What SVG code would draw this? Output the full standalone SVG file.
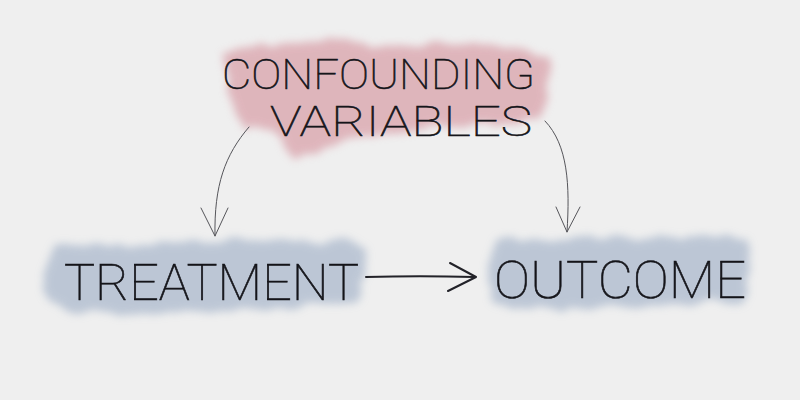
<svg xmlns="http://www.w3.org/2000/svg" width="800" height="400" viewBox="0 0 800 400">
<defs>
<filter id="wash" x="-10%" y="-25%" width="120%" height="150%">
<feTurbulence type="fractalNoise" baseFrequency="0.035" numOctaves="3" seed="4" result="n"/>
<feDisplacementMap in="SourceGraphic" in2="n" scale="16" xChannelSelector="R" yChannelSelector="G" result="d"/>
<feGaussianBlur in="d" stdDeviation="4"/>
</filter>
<style>
.lbl{font-family:"Roboto","DejaVu Sans",sans-serif;font-weight:100;fill:#15151a;stroke:#15151a;stroke-width:0.6;}
.ln{fill:none;stroke:#55555a;stroke-width:1;stroke-linecap:round;stroke-linejoin:round;}
.bold{fill:none;stroke:#222228;stroke-width:2;stroke-linecap:round;stroke-linejoin:round;}
</style>
</defs>
<rect width="800" height="400" fill="#efefef"/>
<g id="confounding">
<path filter="url(#wash)" fill="#d48f9a" opacity="0.6" d="M222,52 C260,42 330,40 400,44 C460,44 510,46 548,58 C552,80 548,100 540,118 C500,126 440,130 380,134 C340,140 310,150 290,158 C285,140 265,130 245,124 C235,110 225,90 222,52 Z"/>
<text class="lbl" x="222" y="89" font-size="42" textLength="313" lengthAdjust="spacingAndGlyphs">CONFOUNDING</text>
<text class="lbl" x="270" y="136" font-size="42" textLength="262" lengthAdjust="spacingAndGlyphs">VARIABLES</text>
</g>
<g id="treatment">
<path filter="url(#wash)" fill="#a7b6cb" opacity="0.7" d="M52,248 C110,242 200,242 300,240 C330,240 355,242 366,248 C366,270 364,290 360,302 C300,308 200,312 120,314 C80,314 58,310 48,300 C46,280 48,262 52,248 Z"/>
<text class="lbl" x="64" y="300" font-size="50" textLength="295" lengthAdjust="spacingAndGlyphs">TREATMENT</text>
</g>
<g id="outcome">
<path filter="url(#wash)" fill="#a7b6cb" opacity="0.7" d="M495,242 C560,240 650,236 745,238 C750,260 750,285 745,300 C680,304 600,306 540,310 C515,310 495,308 490,300 C488,280 490,260 495,242 Z"/>
<text class="lbl" x="494" y="298" font-size="52" textLength="252" lengthAdjust="spacingAndGlyphs">OUTCOME</text>
</g>
<g id="connectors">
<path class="ln" d="M249,127 C225,155 214,185 215,236"/>
<path class="ln" d="M201,208 L215,236 L228,208"/>
<path class="ln" d="M545,121 C568,145 570,185 567,232"/>
<path class="ln" d="M556,207 L567,232 L580,207"/>
<path class="bold" d="M366,277 C400,276 440,276 474,277"/>
<path class="bold" d="M450,263 L476,277 L448,291"/>
</g>
</svg>
